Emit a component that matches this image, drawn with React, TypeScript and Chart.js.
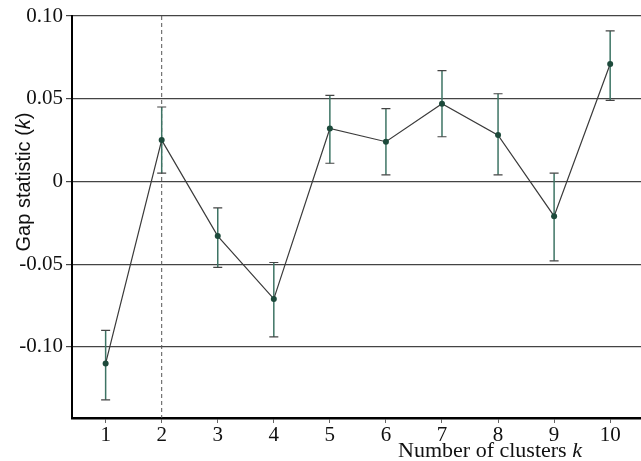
import { useEffect, useRef } from 'react';
import { Chart, registerables } from 'chart.js';

Chart.register(...registerables);

const clusters = [1, 2, 3, 4, 5, 6, 7, 8, 9, 10];
const gapValues = [-0.110, 0.025, -0.033, -0.071, 0.032, 0.024, 0.047, 0.028, -0.021, 0.071];
const errUpper = [-0.090, 0.045, -0.016, -0.049, 0.052, 0.044, 0.067, 0.053, 0.005, 0.091];
const errLower = [-0.132, 0.005, -0.052, -0.094, 0.011, 0.004, 0.027, 0.004, -0.048, 0.049];
const yTicks = [-0.10, -0.05, 0, 0.05, 0.10];
const yTickLabels = ['-0.10', '-0.05', '0', '0.05', '0.10'];
const optimalK = 2;
const yTitleMain = 'Gap statistic (';
const yTitleVar = 'k';
const yTitleEnd = ')';
const xTitleMain = 'Number of clusters ';
const xTitleVar = 'k';

const SERIF = "'Liberation Serif', 'DejaVu Serif', serif";
const SANS = "'Liberation Sans', Arial, sans-serif";

const overlayPlugin = {
  id: 'gapOverlay',
  beforeDatasetsDraw(chart: any) {
    const { ctx, chartArea, scales } = chart;
    const x = scales.x;
    const y = scales.y;
    ctx.save();
    const vx = x.getPixelForValue(optimalK);
    ctx.strokeStyle = '#555';
    ctx.lineWidth = 1;
    ctx.setLineDash([4, 3]);
    ctx.beginPath();
    ctx.moveTo(vx, chartArea.top);
    ctx.lineTo(vx, chartArea.bottom);
    ctx.stroke();
    ctx.setLineDash([]);
    clusters.forEach((k, i) => {
      const px = x.getPixelForValue(k);
      const top = y.getPixelForValue(errUpper[i]);
      const bot = y.getPixelForValue(errLower[i]);
      ctx.strokeStyle = '#3d7464';
      ctx.lineWidth = 1.5;
      ctx.beginPath();
      ctx.moveTo(px, top);
      ctx.lineTo(px, bot);
      ctx.stroke();
      ctx.strokeStyle = '#444';
      ctx.lineWidth = 1.2;
      ctx.beginPath();
      ctx.moveTo(px - 4.5, top);
      ctx.lineTo(px + 4.5, top);
      ctx.moveTo(px - 4.5, bot);
      ctx.lineTo(px + 4.5, bot);
      ctx.stroke();
    });
    ctx.restore();
  },
  afterDraw(chart: any) {
    const { ctx } = chart;
    ctx.save();
    ctx.fillStyle = '#111';
    ctx.textBaseline = 'alphabetic';
    const fMain = `20px ${SANS}`;
    const fVar = `italic 20px ${SANS}`;
    ctx.font = fMain;
    const w1 = ctx.measureText(yTitleMain).width;
    const w3 = ctx.measureText(yTitleEnd).width;
    ctx.font = fVar;
    const w2 = ctx.measureText(yTitleVar).width;
    const total = w1 + w2 + w3;
    ctx.translate(30, 182);
    ctx.rotate(-Math.PI / 2);
    let cx = -total / 2;
    ctx.font = fMain;
    ctx.textAlign = 'left';
    ctx.fillText(yTitleMain, cx, 0);
    cx += w1;
    ctx.font = fVar;
    ctx.fillText(yTitleVar, cx, 0);
    cx += w2;
    ctx.font = fMain;
    ctx.fillText(yTitleEnd, cx, 0);
    ctx.restore();

    ctx.save();
    ctx.fillStyle = '#111';
    ctx.textBaseline = 'alphabetic';
    ctx.textAlign = 'left';
    ctx.font = `22px ${SERIF}`;
    const xw1 = ctx.measureText(xTitleMain).width;
    ctx.font = `italic 22px ${SERIF}`;
    const xw2 = ctx.measureText(xTitleVar).width;
    const startX = 490 - (xw1 + xw2) / 2;
    ctx.font = `22px ${SERIF}`;
    ctx.fillText(xTitleMain, startX, 457);
    ctx.font = `italic 22px ${SERIF}`;
    ctx.fillText(xTitleVar, startX + xw1, 457);
    ctx.restore();
  },
};

export default function App() {
  const canvasRef = useRef<HTMLCanvasElement | null>(null);

  useEffect(() => {
    if (!canvasRef.current) return;
    const chart = new Chart(canvasRef.current, {
      type: 'line',
      data: {
        datasets: [
          {
            data: clusters.map((k, i) => ({ x: k, y: gapValues[i] })),
            borderColor: '#3a3a3a',
            borderWidth: 1.2,
            pointRadius: 3,
            pointBackgroundColor: '#1d4a3b',
            pointBorderColor: '#1d4a3b',
            pointBorderWidth: 0,
            fill: false,
            tension: 0,
          },
        ],
      },
      options: {
        responsive: false,
        animation: false,
        devicePixelRatio: 1,
        layout: { autoPadding: false, padding: { top: 16, left: 0, right: 0, bottom: 0 } },
        plugins: {
          legend: { display: false },
          tooltip: { enabled: false },
          title: { display: false },
        },
        scales: {
          x: {
            type: 'linear',
            min: 0.4,
            max: 10.55,
            afterBuildTicks: (scale: any) => {
              scale.ticks = clusters.map((v) => ({ value: v }));
            },
            afterFit: (scale: any) => {
              scale.height = 43;
            },
            grid: {
              drawOnChartArea: false,
              drawTicks: true,
              tickLength: 5,
              color: '#666',
              lineWidth: 1,
            },
            border: { display: true, color: '#000', width: 2.5 },
            ticks: {
              autoSkip: false,
              maxRotation: 0,
              padding: 0,
              color: '#111',
              font: { family: SERIF, size: 21 },
              callback: (v: any) => String(v),
            },
          },
          y: {
            type: 'linear',
            min: -0.143,
            max: 0.1,
            afterBuildTicks: (scale: any) => {
              scale.ticks = yTicks.map((v) => ({ value: v }));
            },
            afterFit: (scale: any) => {
              scale.width = 72;
            },
            grid: {
              drawOnChartArea: true,
              drawTicks: true,
              tickLength: 6,
              color: '#444',
              lineWidth: 1.2,
            },
            border: { display: true, color: '#000', width: 2 },
            ticks: {
              padding: 3,
              color: '#111',
              font: { family: SERIF, size: 21 },
              callback: (v: any) => {
                const idx = yTicks.findIndex((t) => Math.abs(t - Number(v)) < 1e-9);
                return idx >= 0 ? yTickLabels[idx] : '';
              },
            },
          },
        },
      },
      plugins: [overlayPlugin],
    });
    return () => chart.destroy();
  }, []);

  return (
    <canvas
      ref={canvasRef}
      width={641}
      height={461}
      style={{ position: 'fixed', left: 0, top: 0, width: 641, height: 461, background: '#fff' }}
    />
  );
}
